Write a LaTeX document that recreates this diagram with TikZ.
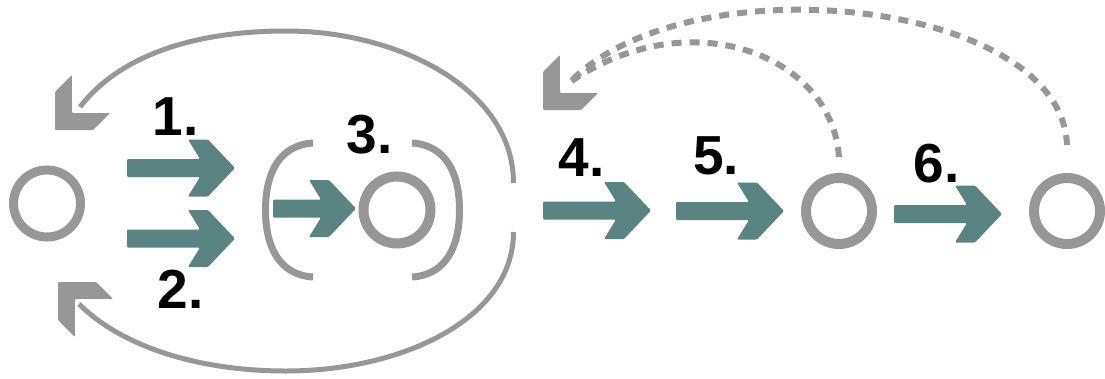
\documentclass[tikz,border=0pt]{standalone}
\usepackage{fontspec}
\setmainfont{Liberation Sans}
\definecolor{tealc}{HTML}{5A8481}
\definecolor{greyc}{HTML}{979797}
\newcommand\tealarrow[3]{%
  \fill[tealc, rounded corners=1.2pt] (#1,#3-9) -- (#2-35,#3-9) -- (#2-47,#3-28.5) -- (#2-27,#3-28.5) -- (#2,#3) -- (#2-27,#3+28.5) -- (#2-47,#3+28.5) -- (#2-35,#3+9) -- (#1,#3+9) -- cycle;}
\newcommand\greyhead[3]{%
  \begin{scope}[shift={(#1,#2)},rotate=#3]
    \fill[greyc, rounded corners=1.2pt] (0,0) -- (-27,27) -- (-51,27) -- (-24,0) -- (-51,-27) -- (-27,-27) -- cycle;
  \end{scope}}
\begin{document}
\begin{tikzpicture}[x=1pt,y=-1pt,
  ring/.style={circle, draw=greyc, inner sep=0pt, line width=10pt},
  lbl/.style={font=\fontsize{55pt}{55pt}\selectfont\bfseries, inner sep=0pt, anchor=base},
  loopline/.style={draw=greyc, line width=5pt},
  paren/.style={draw=greyc, line width=7pt},
  dashline/.style={draw=greyc, line width=6pt, dash pattern=on 10pt off 8pt}]
\useasboundingbox (0,0) rectangle (1105,378);
% circles
\node[ring, line width=9pt, minimum size=67pt] (c1) at (47,203.5) {};
\node[ring, minimum size=67pt] (c3) at (397,210) {};
\node[ring, minimum size=66pt] (c5) at (839,211) {};
\node[ring, minimum size=66pt] (c6) at (1067,211) {};
% parentheses
\draw[paren] (313,143) .. controls (280,145) and (265.5,172) .. (265.5,210) .. controls (265.5,248) and (280,275) .. (313,277);
\draw[paren] (412,143) .. controls (445,145) and (459.5,172) .. (459.5,210) .. controls (459.5,248) and (445,275) .. (412,277);
% teal arrows
\tealarrow{127}{235}{168}
\tealarrow{127}{235}{238.5}
\tealarrow{273}{356}{208.5}
\tealarrow{543}{651}{210.5}
\tealarrow{676}{784}{211}
\tealarrow{894}{1002}{214}
% big loop
\coordinate (lt) at (80,107);
\coordinate (lb) at (79,304);
\coordinate (rt) at (513.5,183);
\coordinate (rb) at (513.5,232);
\draw[loopline] (rt) .. controls (513.5,90) and (400,31) .. (286,31) .. controls (195,31) and (120,55) .. (lt);
\draw[loopline] (rb) .. controls (513.5,320) and (400,371) .. (286,371) .. controls (195,371) and (120,345) .. (lb);
\greyhead{55}{130}{225}
\greyhead{58}{282}{135}
% dashed arcs
\coordinate (d5) at (839,157);
\coordinate (d6) at (1067,145);
\coordinate (hd) at (570,82);
\draw[dashline] (d6) .. controls (1062,0) and (690,-40) .. (hd);
\draw[dashline] (d5) .. controls (832,55) and (690,0) .. (hd);
\greyhead{543}{110}{225}
% labels
\node[lbl] (n1) at (175.5,135) {1.};
\node[lbl] (n2) at (180.5,308) {2.};
\node[lbl] (n3) at (369.5,153) {3.};
\node[lbl] (n4) at (581.5,176) {4.};
\node[lbl] (n5) at (716,174) {5.};
\node[lbl] (n6) at (936.5,182) {6.};
\end{tikzpicture}
\end{document}
